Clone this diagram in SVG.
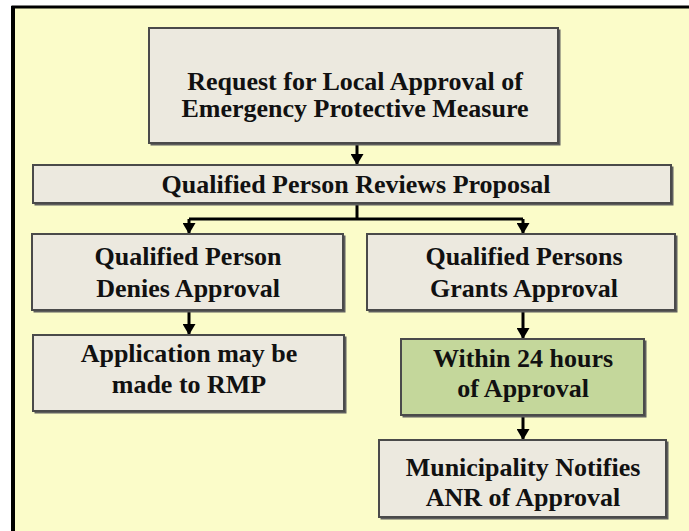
<svg xmlns="http://www.w3.org/2000/svg" width="689" height="531" viewBox="0 0 689 531">
  <defs>
    <marker id="ah" viewBox="0 0 10 12" refX="10" refY="6" markerWidth="11" markerHeight="13" markerUnits="userSpaceOnUse" orient="auto" preserveAspectRatio="none">
      <path d="M0,0 L10,6 L0,12 Z" fill="#000"/>
    </marker>
  </defs>
  <style>
    .box { fill: #ECE9DF; stroke: #4A4A4A; stroke-width: 2; }
    .green { fill: #C4D79B; stroke: #4A4A4A; stroke-width: 2; }
    .shadow { fill: #5E5E5E; }
    .t { font-family: "Liberation Serif", "Times New Roman", serif; font-weight: bold; font-size: 26px; fill: #111; text-anchor: middle; }
    .c { fill: none; stroke: #000; stroke-width: 3; }
  </style>
  <rect x="0" y="0" width="689" height="531" fill="#FFFFFF"/>
  <rect id="frame" x="13" y="7" width="690" height="540" fill="#FBFCC9" stroke="#000" stroke-width="3"/>
  <line x1="13" y1="6" x2="13" y2="531" stroke="#000" stroke-width="4"/>

  <g id="connectors">
    <line class="c" x1="357" y1="144" x2="357" y2="165" marker-end="url(#ah)"/>
    <polyline class="c" points="357,204 357,219"/>
    <polyline class="c" points="189,219 523,219"/>
    <line class="c" x1="189" y1="219" x2="189" y2="234" marker-end="url(#ah)"/>
    <line class="c" x1="523" y1="219" x2="523" y2="234" marker-end="url(#ah)"/>
    <line class="c" x1="189" y1="311" x2="189" y2="335" marker-end="url(#ah)"/>
    <line class="c" x1="523" y1="311" x2="523" y2="339" marker-end="url(#ah)"/>
    <line class="c" x1="523" y1="416" x2="523" y2="440" marker-end="url(#ah)"/>
  </g>

  <g id="request">
    <rect class="shadow" x="150.5" y="29.5" width="410" height="116"/>
    <rect class="box" x="149" y="28" width="409" height="115"/>
    <text class="t" x="355" y="90">Request for Local Approval of</text>
    <text class="t" x="355" y="117">Emergency Protective Measure</text>
  </g>

  <g id="reviews">
    <rect class="shadow" x="34.5" y="166.5" width="639" height="39"/>
    <rect class="box" x="33" y="165" width="638" height="38"/>
    <text class="t" x="356" y="193">Qualified Person Reviews Proposal</text>
  </g>

  <g id="denies">
    <rect class="shadow" x="33.5" y="235.5" width="312" height="77"/>
    <rect class="box" x="32" y="234" width="311" height="76"/>
    <text class="t" x="188" y="265">Qualified Person</text>
    <text class="t" x="188" y="297">Denies Approval</text>
  </g>

  <g id="grants">
    <rect class="shadow" x="368.5" y="235.5" width="309" height="77"/>
    <rect class="box" x="367" y="234" width="308" height="76"/>
    <text class="t" x="524" y="265">Qualified Persons</text>
    <text class="t" x="524" y="297">Grants Approval</text>
  </g>

  <g id="application">
    <rect class="shadow" x="34.5" y="336.5" width="312" height="77"/>
    <rect class="box" x="33" y="335" width="311" height="76"/>
    <text class="t" x="189" y="362">Application may be</text>
    <text class="t" x="189" y="393">made to RMP</text>
  </g>

  <g id="within">
    <rect class="shadow" x="402.5" y="340.5" width="244" height="77"/>
    <rect class="green" x="401" y="339" width="243" height="76"/>
    <text class="t" x="523" y="367">Within 24 hours</text>
    <text class="t" x="523" y="397">of Approval</text>
  </g>

  <g id="municipality">
    <rect class="shadow" x="380.5" y="441.5" width="288" height="78"/>
    <rect class="box" x="379" y="440" width="287" height="77"/>
    <text class="t" x="523" y="476">Municipality Notifies</text>
    <text class="t" x="523" y="506">ANR of Approval</text>
  </g>
</svg>
